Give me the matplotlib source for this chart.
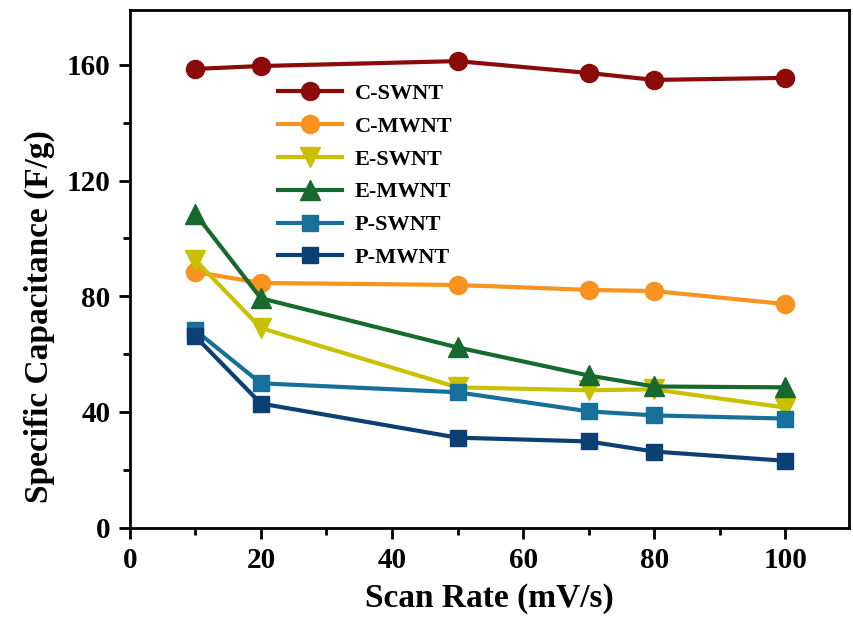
import matplotlib
matplotlib.use('Agg')
import matplotlib.pyplot as plt
from matplotlib.ticker import MultipleLocator

scan_rate = [10, 20, 50, 70, 80, 100]

c_swnt = [158.6, 159.6, 161.3, 157.2, 154.8, 155.5]
c_mwnt = [88.4, 84.6, 83.9, 82.2, 81.8, 77.3]
e_swnt = [92.5, 69.0, 48.5, 47.5, 47.8, 41.5]
e_mwnt = [108.5, 79.3, 62.3, 52.6, 48.8, 48.5]
p_swnt = [68.2, 49.9, 46.8, 40.2, 38.8, 37.7]
p_mwnt = [66.1, 42.9, 31.1, 29.8, 26.3, 23.1]

labels = ['C-SWNT', 'C-MWNT', 'E-SWNT', 'E-MWNT', 'P-SWNT', 'P-MWNT']
colors = ['#8B0A0A', '#F7931E', '#C9C100', '#17692E', '#17709A', '#0C3F74']
markers = ['o', 'o', 'v', '^', 's', 's']


def main():
    plt.rcParams['font.family'] = ['Liberation Serif', 'DejaVu Serif']
    plt.rcParams['font.weight'] = 'bold'

    fig = plt.figure(figsize=(8.54, 6.2), dpi=100)
    ax = fig.add_axes([0.152, 0.149, 0.842, 0.835])

    series = [c_swnt, c_mwnt, e_swnt, e_mwnt, p_swnt, p_mwnt]
    for ys, lab, col, mk in zip(series, labels, colors, markers):
        ms = 13 if mk == 'o' else (12 if mk == 's' else 14)
        ax.plot(scan_rate, ys, color=col, marker=mk, ms=ms, lw=3,
                label=lab, mec=col)

    ax.set_xlim(0, 109.7)
    ax.set_ylim(0, 179)
    ax.xaxis.set_major_locator(MultipleLocator(20))
    ax.xaxis.set_minor_locator(MultipleLocator(10))
    ax.yaxis.set_major_locator(MultipleLocator(40))
    ax.yaxis.set_minor_locator(MultipleLocator(20))
    ax.tick_params(which='both', direction='out', width=2)
    ax.tick_params(which='major', length=8, labelsize=21, pad=6)
    ax.tick_params(which='minor', length=5)
    for sp in ax.spines.values():
        sp.set_linewidth(2)

    ax.set_xlabel('Scan Rate (mV/s)', fontsize=24, fontweight='bold')
    ax.set_ylabel('Specific Capacitance (F/g)', fontsize=24, fontweight='bold')
    ax.xaxis.set_label_coords(0.5, -0.107)
    ax.yaxis.set_label_coords(-0.104, 0.407)

    ax.legend(loc='upper left', bbox_to_anchor=(0.178, 0.897),
              frameon=False, numpoints=1, handlelength=2.9,
              labelspacing=0.555, handletextpad=0.55,
              prop={'weight': 'bold', 'size': 16})

    fig.savefig('out.png', dpi=100)


if __name__ == '__main__':
    main()
